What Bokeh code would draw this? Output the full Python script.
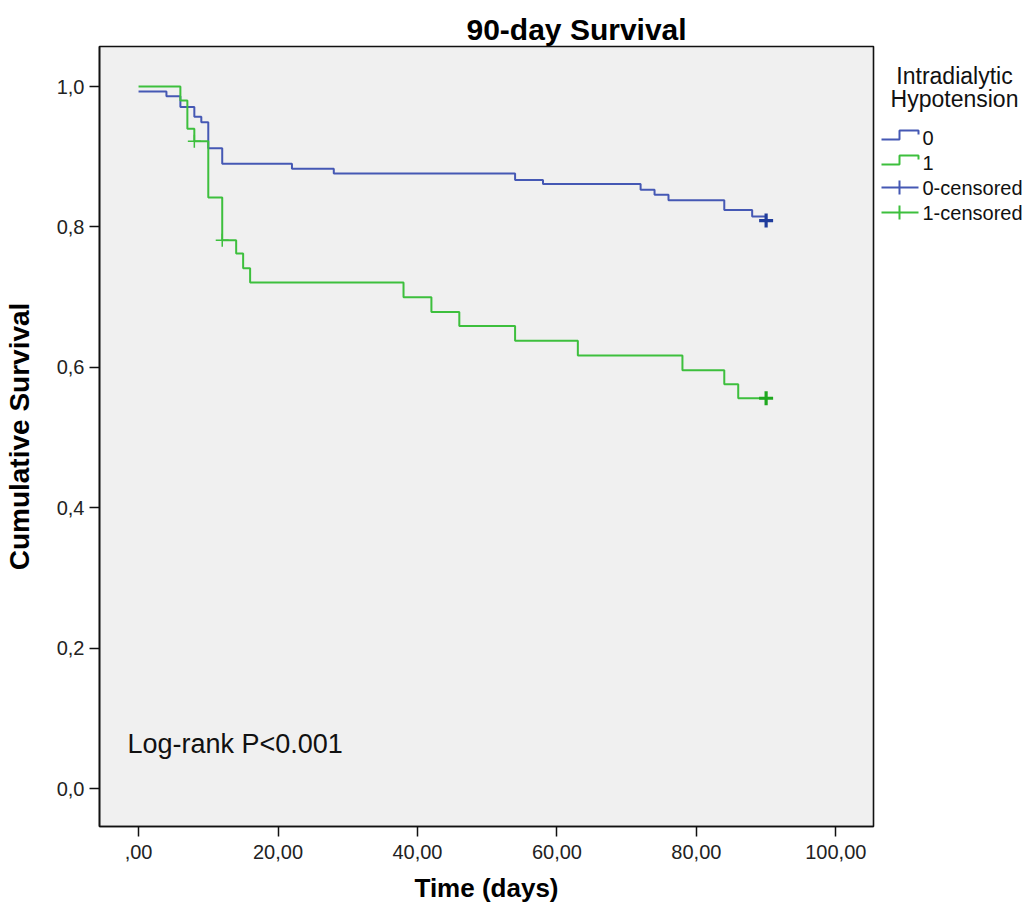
from bokeh.plotting import figure
from bokeh.models import Range1d, FixedTicker, Label, ColumnDataSource
from bokeh.layouts import row
from bokeh.embed import file_html
from bokeh.resources import INLINE
from bokeh.core.properties import value

# ---------------- data ----------------
time_0 = [0, 4, 6, 8, 9, 10, 12, 22, 28, 54, 58, 72, 74, 76, 84, 88, 90]
surv_0 = [0.993, 0.986, 0.971, 0.957, 0.949, 0.912, 0.890, 0.883, 0.876, 0.867,
          0.861, 0.853, 0.846, 0.838, 0.824, 0.815, 0.809]
time_1 = [0, 6, 7, 8, 10, 12, 14, 15, 16, 38, 42, 46, 54, 63, 78, 84, 86, 90]
surv_1 = [1.0, 0.98, 0.94, 0.922, 0.842, 0.781, 0.762, 0.741, 0.721, 0.700,
          0.679, 0.659, 0.638, 0.617, 0.596, 0.576, 0.556, 0.556]
cens_time_0 = [90]
cens_surv_0 = [0.809]
cens_time_1 = [8, 12, 90]
cens_surv_1 = [0.922, 0.781, 0.556]

x_ticks = [0, 20, 40, 60, 80, 100]
x_tick_labels = [",00", "20,00", "40,00", "60,00", "80,00", "100,00"]
y_ticks = [0.0, 0.2, 0.4, 0.6, 0.8, 1.0]
y_tick_labels = ["0,0", "0,2", "0,4", "0,6", "0,8", "1,0"]

legend_title_lines = ["Intradialytic", "Hypotension"]
legend_labels = ["0", "1", "0-censored", "1-censored"]
annotation_text = "Log-rank P<0.001"
title_text = "90-day Survival"

# ---------------- styles / layout ----------------
FONT = "Liberation Sans"
BLUE = "#4558b4"
GREEN = "#3dbf3d"
BLUE_DARK = "#1f3c9c"
GREEN_DARK = "#1fa81f"

H = 906
BORDER_L, BORDER_T, BORDER_R = 97, 46, 2
FRAME_W = 776
FRAME_BOTTOM = 826
BORDER_B = H - FRAME_BOTTOM

p = figure(width=BORDER_L + FRAME_W + BORDER_R, height=H,
           x_range=Range1d(-5.6, 105.4), y_range=Range1d(-0.054, 1.057),
           toolbar_location=None, output_backend="svg",
           min_border_left=BORDER_L, min_border_right=BORDER_R,
           min_border_top=BORDER_T, min_border_bottom=BORDER_B)

p.background_fill_color = "#f0f0f0"
p.border_fill_color = "white"
p.outline_line_color = "#111111"
p.outline_line_width = 1.6
p.xgrid.visible = False
p.ygrid.visible = False

p.title.text = title_text
p.title.text_font = FONT
p.title.text_font_size = "30px"
p.title.text_font_style = "bold"
p.title.text_color = "black"
p.title.align = "left"
p.title.offset = 367
p.title.standoff = 2

for ax in (p.xaxis[0], p.yaxis[0]):
    ax.axis_line_color = "#111111"
    ax.axis_line_width = 1.6
    ax.major_tick_line_color = "#111111"
    ax.major_tick_line_width = 1.5
    ax.major_tick_out = 10
    ax.major_tick_in = 0
    ax.minor_tick_line_color = None
    ax.major_label_text_font = FONT
    ax.major_label_text_font_size = "20px"
    ax.major_label_text_color = "#222222"
    ax.axis_label_text_font = FONT
    ax.axis_label_text_font_style = "bold"
    ax.axis_label_text_color = "black"

p.xaxis.ticker = FixedTicker(ticks=x_ticks)
p.xaxis.major_label_overrides = dict(zip(x_ticks, x_tick_labels))
p.xaxis.axis_label = "Time (days)"
p.xaxis.axis_label_text_font_size = "26px"
p.xaxis.major_label_standoff = 8
p.xaxis.axis_label_standoff = 11

p.yaxis.ticker = FixedTicker(ticks=y_ticks)
p.yaxis.major_label_overrides = dict(zip(y_ticks, y_tick_labels))
p.yaxis.axis_label = "Cumulative Survival"
p.yaxis.axis_label_text_font_size = "28px"
p.yaxis.major_label_standoff = 5
p.yaxis.axis_label_standoff = 19

# survival curves
p.step(time_0, surv_0, mode="after", line_color=BLUE, line_width=2)
p.step(time_1, surv_1, mode="after", line_color=GREEN, line_width=2)

# censored marks (marks at the final time are drawn bolder/darker)
def cens_source(t, s, light, dark):
    tmax = max(t)
    return ColumnDataSource(dict(
        x=t, y=s,
        w=[3.2 if ti == tmax else 1.5 for ti in t],
        c=[dark if ti == tmax else light for ti in t],
        sz=[14 if ti == tmax else 13 for ti in t]))

p.scatter("x", "y", source=cens_source(cens_time_0, cens_surv_0, BLUE, BLUE_DARK),
          marker="cross", size="sz", line_color="c", line_width="w")
p.scatter("x", "y", source=cens_source(cens_time_1, cens_surv_1, GREEN, GREEN_DARK),
          marker="cross", size="sz", line_color="c", line_width="w")

p.add_layout(Label(x=-1.6, y=0.064, text=annotation_text, text_font=FONT,
                   text_font_size="27px", text_color="#111111",
                   text_baseline="middle", text_align="left"))

# ---------------- legend panel (coordinates = page pixels inside panel) ----------------
LW = 153
leg = figure(width=LW, height=H, x_range=Range1d(0, LW),
             y_range=Range1d(FRAME_BOTTOM, BORDER_T),
             toolbar_location=None, output_backend="svg",
             x_axis_location=None, y_axis_location=None,
             min_border_left=0, min_border_right=0,
             min_border_top=BORDER_T, min_border_bottom=BORDER_B)
leg.xgrid.visible = False
leg.ygrid.visible = False
leg.outline_line_color = None
leg.background_fill_color = "white"
leg.border_fill_color = "white"

title_cx, title_y0, title_dy = 79, 75, 23
leg.text(x=[title_cx] * len(legend_title_lines),
         y=[title_y0 + i * title_dy for i in range(len(legend_title_lines))],
         text=legend_title_lines, text_font=value(FONT), text_font_size="23px",
         text_align="center", text_baseline="middle", text_color="#111111")

entry_y0, entry_dy = 137, 25
gx0, gx1, gx2 = 6, 24, 43
text_x = 47
ys_entries = [entry_y0 + i * entry_dy for i in range(len(legend_labels))]
leg.text(x=[text_x] * len(legend_labels), y=ys_entries, text=legend_labels,
         text_font=value(FONT), text_font_size="20px", text_align="left",
         text_baseline="middle", text_color="#111111")

step_colors = [BLUE, GREEN]
for cy, col in zip(ys_entries[:2], step_colors):
    leg.line(x=[gx0, gx1, gx1, gx2, gx2], y=[cy + 2, cy + 2, cy - 7, cy - 7, cy - 3],
             line_color=col, line_width=2)
for cy, col in zip(ys_entries[2:], step_colors):
    leg.multi_line(xs=[[gx0, gx2], [gx1, gx1]], ys=[[cy, cy], [cy - 7, cy + 7]],
                   line_color=col, line_width=2)

layout = row(p, leg)
open("out.html", "w").write(file_html(layout, INLINE))
